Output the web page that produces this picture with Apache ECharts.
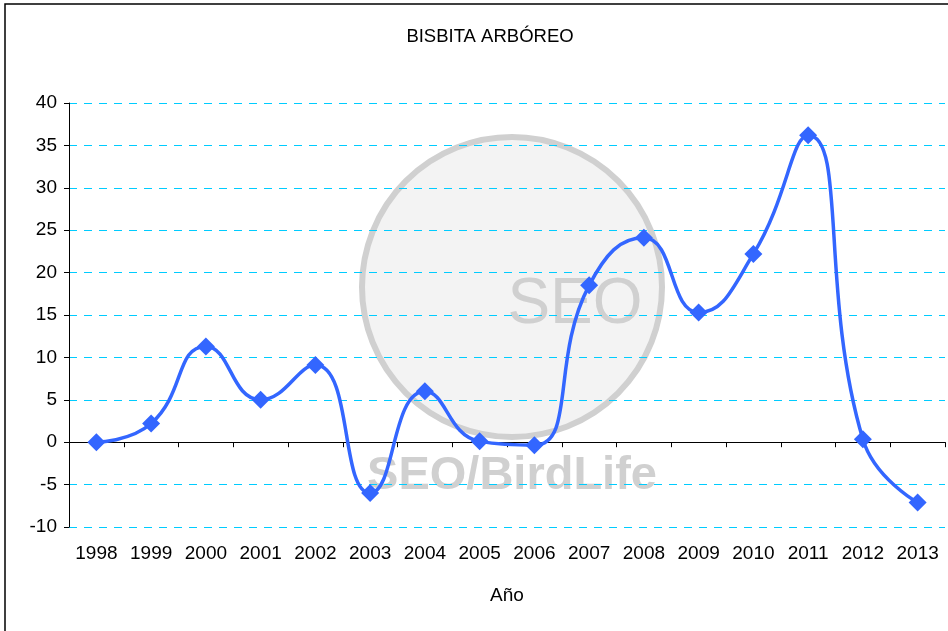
<!DOCTYPE html>
<html>
<head>
<meta charset="utf-8">
<script src="https://cdn.jsdelivr.net/npm/echarts@6/dist/echarts.min.js"></script>
<style>
  html, body { margin: 0; padding: 0; background: #fff; }
  #chart { width: 948px; height: 631px; }
</style>
</head>
<body>
<div id="chart"></div>
<script>
// datos
const years = ['1998', '1999', '2000', '2001', '2002', '2003', '2004', '2005',
               '2006', '2007', '2008', '2009', '2010', '2011', '2012', '2013'];
const values = [0, 2.2, 11.3, 5.0, 9.1, -6.0, 6.0, 0.1,
                -0.35, 18.5, 24.1, 15.3, 22.2, 36.2, 0.35, -7.1];

const fontFam = '"Liberation Sans", Arial, sans-serif';
const gray = '#d0d0d0';

const chart = echarts.init(document.getElementById('chart'));
chart.setOption({
    animation: false,
    backgroundColor: '#fff',
    title: {
        text: 'BISBITA ARBÓREO',
        left: 485, top: 22, textAlign: 'center',
        textStyle: { fontFamily: fontFam, fontSize: 18.5, fontWeight: 'normal', color: '#000' }
    },
    grid: { left: 69, right: 3, top: 103, bottom: 104 },
    graphic: [
        // marco exterior
        { type: 'rect', shape: { x: 5, y: 4, width: 960, height: 640 },
          style: { fill: 'none', stroke: '#000', lineWidth: 1.5 }, z: -10 },
        // marca de agua
        { type: 'circle', shape: { cx: 512, cy: 287, r: 150 },
          style: { fill: '#f3f3f3', stroke: gray, lineWidth: 6 }, z: -5 },
        { type: 'text', x: 575, y: 305,
          style: { text: 'SEO', fill: gray, font: '64px ' + fontFam, align: 'center', verticalAlign: 'middle' }, z: -4 },
        { type: 'text', x: 512, y: 476,
          style: { text: 'SEO/BirdLife', fill: gray, font: 'bold 47px ' + fontFam, align: 'center', verticalAlign: 'middle' }, z: -4 }
    ],
    xAxis: {
        type: 'category',
        data: years,
        boundaryGap: true,
        name: 'Año',
        nameLocation: 'middle',
        nameGap: 59,
        nameTextStyle: { fontFamily: fontFam, fontSize: 19, color: '#000' },
        axisLine: { lineStyle: { color: '#000', width: 1 } },
        axisTick: { show: true, alignWithLabel: false, length: 5, lineStyle: { color: '#000' } },
        axisLabel: { fontFamily: fontFam, fontSize: 19, color: '#000', margin: 17, interval: 0 },
        splitLine: { show: false }
    },
    yAxis: {
        type: 'value',
        min: -10, max: 40, interval: 5,
        axisLine: { show: true, lineStyle: { color: '#000', width: 1 } },
        axisTick: { show: true, length: 5, lineStyle: { color: '#000' } },
        axisLabel: { fontFamily: fontFam, fontSize: 19, color: '#000', margin: 12 },
        splitLine: { show: true, lineStyle: { color: '#00ccff', type: [8, 7], width: 1 } }
    },
    series: [{
        type: 'line',
        data: values,
        smooth: 0.5,
        symbol: 'diamond',
        symbolSize: 18,
        lineStyle: { color: '#3366ff', width: 3.5 },
        itemStyle: { color: '#3366ff' },
        z: 5
    }]
});
</script>
</body>
</html>
